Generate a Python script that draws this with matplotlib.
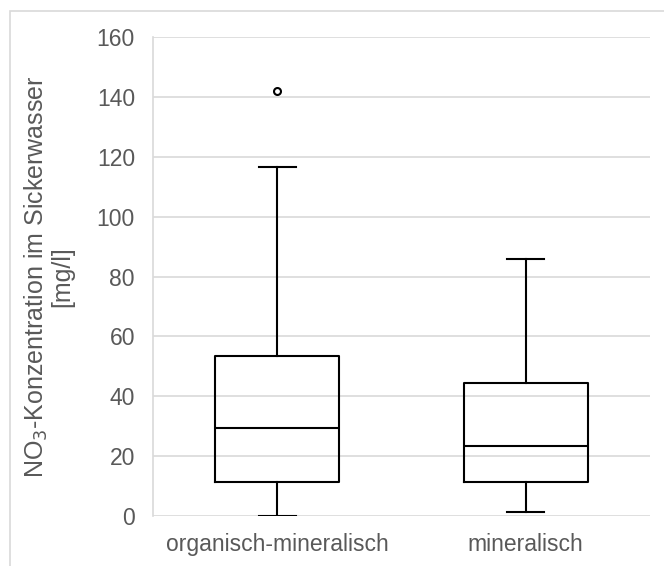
import matplotlib.pyplot as plt
from matplotlib.patches import Rectangle

plt.rcParams['font.family'] = ['Liberation Sans', 'DejaVu Sans']

categories = ['organisch-mineralisch', 'mineralisch']
whisker_low = [0.0, 1.3]
q1 = [11.3, 11.3]
median = [29.5, 23.5]
q3 = [53.5, 44.5]
whisker_high = [116.5, 85.8]
outliers = [[142.0], []]
yticks = [0, 20, 40, 60, 80, 100, 120, 140, 160]

stats = []
for i, name in enumerate(categories):
    stats.append({'label': name, 'whislo': whisker_low[i], 'q1': q1[i], 'med': median[i],
                  'q3': q3[i], 'whishi': whisker_high[i], 'fliers': outliers[i]})

fig = plt.figure(figsize=(6.64, 5.66), dpi=100)
fig.patches.append(Rectangle((10/664, -0.1), 1.2, (566-11)/566 + 0.1, transform=fig.transFigure,
                             fill=False, edgecolor='#d9d9d9', linewidth=1.2))
ax = fig.add_axes([153/664, 50/566, (650-153)/664, (516-37)/566])

lw = 1.5
ax.bxp(stats, positions=[0, 1], widths=0.5, showfliers=True,
       boxprops=dict(color='black', linewidth=lw),
       medianprops=dict(color='black', linewidth=lw),
       whiskerprops=dict(color='black', linewidth=lw),
       capprops=dict(color='black', linewidth=lw),
       capwidths=0.15,
       flierprops=dict(marker='o', markerfacecolor='white', markeredgecolor='black',
                       markersize=5, markeredgewidth=1.5))

ax.set_xlim(-0.5, 1.5)
ax.set_ylim(0, 160)
ax.set_yticks(yticks)
ax.yaxis.grid(True, color='#d9d9d9', linewidth=1.2)
ax.set_axisbelow(True)
for s in ['top', 'right', 'bottom']:
    ax.spines[s].set_visible(False)
ax.spines['left'].set_color('#d9d9d9')
ax.spines['left'].set_linewidth(1.2)
ax.tick_params(axis='both', length=0, labelsize=16.5, colors='#595959')
ax.tick_params(axis='x', pad=12)
ax.tick_params(axis='y', pad=13)
ax.set_xticks([0, 1])
ax.set_xticklabels(categories)
ax.set_ylabel('NO$_3$-Konzentration im Sickerwasser\n[mg/l]', fontsize=18, color='#595959',
              linespacing=1.0, labelpad=16)

fig.savefig('out.png', dpi=100)
